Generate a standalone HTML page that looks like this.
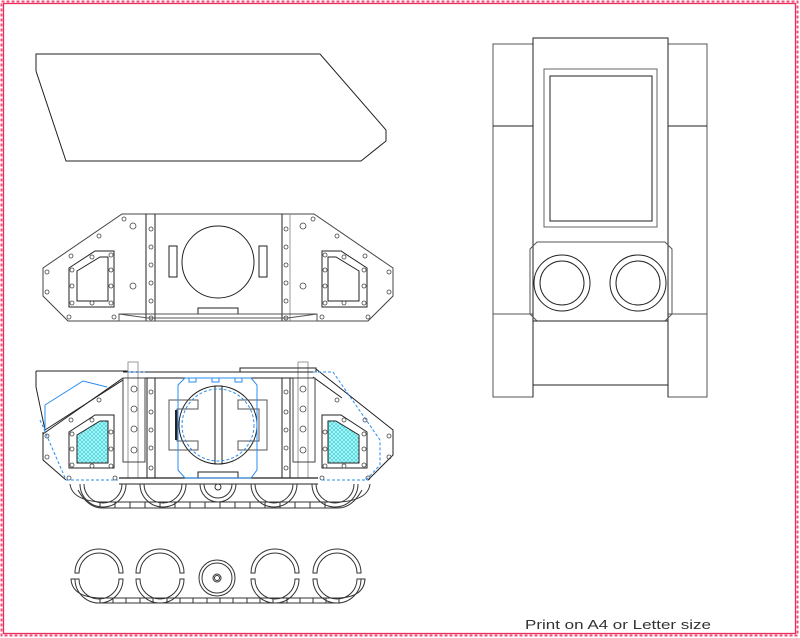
<!DOCTYPE html>
<html><head><meta charset="utf-8"><style>
html,body{margin:0;padding:0;background:#fff;}
svg{display:block;}
</style></head><body>
<svg width="800" height="638" viewBox="0 0 800 638" xmlns="http://www.w3.org/2000/svg">
<defs>
<pattern id="hatch" width="4" height="4" patternUnits="userSpaceOnUse">
<rect width="4" height="4" fill="#bff5f5"/>
<path d="M0,0 L4,4 M4,0 L0,4" stroke="#33d6e0" stroke-width="0.7"/>
</pattern>
</defs>
<rect x="1.5" y="1.5" width="796" height="634" fill="none" stroke="#f0507a" stroke-width="2" stroke-dasharray="3,2"/>
<rect x="3.5" y="3.5" width="792" height="630" fill="none" stroke="#e8305c" stroke-width="1.3"/>

<g fill="none" stroke="#222" stroke-width="1">
<path d="M36,54 H320 L386,130 V141 L361,161 H66 L36,71 Z"/>

<path d="M122,214 H314 L393,268 V296 L368,321 H68 L43,296 V268 Z" stroke="#444"/>
<line x1="146" y1="214" x2="146" y2="321"/>
<line x1="155" y1="214" x2="155" y2="321"/>
<line x1="282" y1="214" x2="282" y2="321"/>
<line x1="290" y1="214" x2="290" y2="321" stroke="#999"/>
<circle cx="218" cy="262" r="36"/>
<rect x="169" y="246" width="8" height="31"/>
<rect x="259" y="246" width="8" height="31"/>
<rect x="198" y="308" width="40" height="6"/>
<path d="M119,314 H317 V321 H119 Z M119,314 L148,318 M317,314 L288,318 M148,318 H288" stroke="#555"/>
<path d="M69,268 L95,251 H114 V307 H69 Z"/>
<path d="M77,271 L100,257 H108 V301 H77 Z"/>
<path d="M367,268 L341,251 H322 V307 H367 Z"/>
<path d="M359,271 L336,257 H328 V301 H359 Z"/>
<g stroke="#444" stroke-width="0.8">
<circle cx="151" cy="229" r="2"/><circle cx="151" cy="247" r="2"/><circle cx="151" cy="265" r="2"/><circle cx="151" cy="283" r="2"/><circle cx="151" cy="301" r="2"/><circle cx="151" cy="318" r="2"/>
<circle cx="286" cy="229" r="2"/><circle cx="286" cy="247" r="2"/><circle cx="286" cy="265" r="2"/><circle cx="286" cy="283" r="2"/><circle cx="286" cy="301" r="2"/><circle cx="286" cy="318" r="2"/>
<circle cx="133" cy="226" r="3"/><circle cx="133" cy="286" r="3"/><circle cx="303" cy="226" r="3"/><circle cx="303" cy="286" r="3"/>
<circle cx="124" cy="219" r="2"/><circle cx="313" cy="219" r="2"/>
<circle cx="99" cy="236" r="2"/><circle cx="71" cy="256" r="2"/><circle cx="47" cy="272" r="2"/><circle cx="47" cy="292" r="2"/><circle cx="69" cy="317" r="2"/><circle cx="114" cy="317" r="2"/>
<circle cx="337" cy="236" r="2"/><circle cx="365" cy="256" r="2"/><circle cx="389" cy="272" r="2"/><circle cx="389" cy="292" r="2"/><circle cx="368" cy="317" r="2"/><circle cx="322" cy="317" r="2"/>
<circle cx="72" cy="270" r="2"/><circle cx="72" cy="286" r="2"/><circle cx="72" cy="303" r="2"/><circle cx="92" cy="303" r="2"/><circle cx="111" cy="303" r="2"/><circle cx="111" cy="286" r="2"/><circle cx="111" cy="270" r="2"/><circle cx="111" cy="255" r="2"/><circle cx="92" cy="257" r="2"/>
<circle cx="364" cy="270" r="2"/><circle cx="364" cy="286" r="2"/><circle cx="364" cy="303" r="2"/><circle cx="344" cy="303" r="2"/><circle cx="325" cy="303" r="2"/><circle cx="325" cy="286" r="2"/><circle cx="325" cy="270" r="2"/><circle cx="325" cy="255" r="2"/><circle cx="344" cy="257" r="2"/>
</g>

<path d="M36,371 H128 M36,371 V387 L45,430 L123,380 M43,432 V460 L66,480" />
<path d="M43,434 L123,378"/>
<line x1="123" y1="372" x2="316" y2="372"/>
<line x1="123" y1="378" x2="313" y2="378"/>
<path d="M316,369 L393,430 V455 L368,480"/>
<path d="M313,377 L342,398"/>
<rect x="128" y="362" width="10" height="116" stroke="#999"/>
<rect x="298" y="362" width="10" height="116" stroke="#999"/>
<rect x="123" y="378" width="22" height="84" stroke="#444"/>
<rect x="293" y="378" width="22" height="84" stroke="#444"/>
<line x1="147" y1="378" x2="147" y2="478"/><line x1="155" y1="378" x2="155" y2="478"/>
<line x1="282" y1="378" x2="282" y2="478"/><line x1="290" y1="378" x2="290" y2="478"/>
<rect x="240" y="368" width="76" height="4"/>
<path d="M69,432 L95,415 H114 V468 H69 Z"/>
<path d="M367,432 L341,415 H322 V468 H367 Z"/>
<path d="M77,435 L100,421 H108 V463 H77 Z" fill="url(#hatch)"/>
<path d="M359,435 L336,421 H328 V463 H359 Z" fill="url(#hatch)"/>
<circle cx="218" cy="425" r="39"/>
<rect x="215" y="386" width="7" height="78"/>
<path d="M198,400 H169 V450 H198 V441 H177 V409 H198 Z" stroke="#555"/>
<path d="M238,400 H267 V450 H238 V441 H259 V409 H238 Z" stroke="#555"/>
<line x1="176" y1="410" x2="176" y2="440" stroke-width="2"/>
<line x1="119" y1="478" x2="318" y2="478" stroke-width="1.3"/>
<line x1="119" y1="484" x2="318" y2="484"/>
<rect x="198" y="472" width="40" height="6"/>
<g stroke="#444" stroke-width="0.8">
<circle cx="134" cy="389" r="3"/><circle cx="134" cy="409" r="3"/><circle cx="134" cy="429" r="3"/><circle cx="134" cy="450" r="3"/>
<circle cx="303" cy="389" r="3"/><circle cx="303" cy="409" r="3"/><circle cx="303" cy="429" r="3"/><circle cx="303" cy="450" r="3"/>
<circle cx="151" cy="392" r="2"/><circle cx="151" cy="412" r="2"/><circle cx="151" cy="430" r="2"/><circle cx="151" cy="448" r="2"/><circle cx="151" cy="468" r="2"/>
<circle cx="286" cy="392" r="2"/><circle cx="286" cy="412" r="2"/><circle cx="286" cy="430" r="2"/><circle cx="286" cy="448" r="2"/><circle cx="286" cy="468" r="2"/>
<circle cx="99" cy="400" r="2"/><circle cx="71" cy="420" r="2"/><circle cx="47" cy="436" r="2"/><circle cx="47" cy="457" r="2"/><circle cx="69" cy="478" r="2"/><circle cx="115" cy="478" r="2"/>
<circle cx="337" cy="400" r="2"/><circle cx="365" cy="420" r="2"/><circle cx="389" cy="436" r="2"/><circle cx="389" cy="457" r="2"/><circle cx="368" cy="478" r="2"/><circle cx="322" cy="478" r="2"/>
<circle cx="72" cy="434" r="2"/><circle cx="72" cy="449" r="2"/><circle cx="72" cy="465" r="2"/><circle cx="92" cy="466" r="2"/><circle cx="111" cy="466" r="2"/><circle cx="111" cy="449" r="2"/><circle cx="111" cy="432" r="2"/><circle cx="92" cy="420" r="2"/>
<circle cx="364" cy="434" r="2"/><circle cx="364" cy="449" r="2"/><circle cx="364" cy="465" r="2"/><circle cx="344" cy="466" r="2"/><circle cx="325" cy="466" r="2"/><circle cx="325" cy="449" r="2"/><circle cx="325" cy="432" r="2"/><circle cx="344" cy="420" r="2"/>
</g>
<g stroke="#333">
<path d="M80,484 A23,23 0 0 0 126,484 M84,484 A19,19 0 0 0 122,484"/>
<path d="M140,484 A23,23 0 0 0 186,484 M144,484 A19,19 0 0 0 182,484"/>
<path d="M200,484 A18,18 0 0 0 236,484 M204,484 A14,14 0 0 0 232,484"/>
<path d="M251,484 A23,23 0 0 0 297,484 M255,484 A19,19 0 0 0 293,484"/>
<path d="M312,484 A23,23 0 0 0 358,484 M316,484 A19,19 0 0 0 354,484"/>
<circle cx="218" cy="487" r="3"/>
<path d="M70,484 Q72,500 100,502 H340 Q368,500 370,484"/>
<path d="M78,490 Q88,508 102,508 H338 Q352,508 362,490"/>
<path d="M100,502 V508 M115,502 V508 M130,502 V508 M145,502 V508 M160,502 V508 M175,502 V508 M190,502 V508 M205,502 V508 M220,502 V508 M235,502 V508 M250,502 V508 M265,502 V508 M280,502 V508 M295,502 V508 M310,502 V508 M325,502 V508"/>
</g>
</g>

<g fill="none" stroke="#2a8cf0" stroke-width="1">
<path d="M185,378 H251 L257,385 V470 L251,478 H185 L178,470 V385 Z"/>
<rect x="189" y="378" width="7" height="4"/><rect x="212" y="378" width="7" height="4"/><rect x="235" y="378" width="7" height="4"/>
<circle cx="218" cy="425" r="36" stroke-dasharray="3,2"/>
<path d="M45,405 L83,381 L107,387" />
<path d="M45,405 L45,432" />
<path d="M66,480 H118" stroke-dasharray="3,2"/>
<path d="M322,480 H368" stroke-dasharray="3,2"/>
<path d="M40,420 L66,480" stroke-dasharray="3,2"/>
<path d="M313,372 L333,372 L380,440 L380,465 L366,480" stroke-dasharray="3,2"/>
<path d="M128,372 H145" stroke-dasharray="3,2"/>
</g>

<g fill="none" stroke="#333" stroke-width="1">
<path d="M75,573 A24,24 0 0 1 123,573 H119 A20,20 0 0 0 79,573 Z"/>
<path d="M136,573 A24,24 0 0 1 184,573 H180 A20,20 0 0 0 140,573 Z"/>
<path d="M251,573 A24,24 0 0 1 299,573 H295 A20,20 0 0 0 255,573 Z"/>
<path d="M313,573 A24,24 0 0 1 361,573 H357 A20,20 0 0 0 317,573 Z"/>
<path d="M75,579 A24,24 0 0 0 123,579 H119 A20,20 0 0 1 79,579 Z"/>
<path d="M136,579 A24,24 0 0 0 184,579 H180 A20,20 0 0 1 140,579 Z"/>
<path d="M251,579 A24,24 0 0 0 299,579 H295 A20,20 0 0 1 255,579 Z"/>
<path d="M313,579 A24,24 0 0 0 361,579 H357 A20,20 0 0 1 317,579 Z"/>
<path d="M75,579 H71 Q72,597 100,598 M361,579 H365 Q364,597 339,598"/>
<path d="M100,598 V603 H339 V598 H100"/>
<path d="M113,598 V603 M126,598 V603 M140,598 V603 M153,598 V603 M167,598 V603 M180,598 V603 M193,598 V603 M207,598 V603 M220,598 V603 M233,598 V603 M247,598 V603 M260,598 V603 M273,598 V603 M287,598 V603 M300,598 V603 M313,598 V603 M326,598 V603"/>
<circle cx="217" cy="578" r="18"/>
<circle cx="217" cy="578" r="15"/>
<circle cx="217" cy="578" r="4"/>
<circle cx="217" cy="578" r="2.5"/>
</g>

<g fill="none" stroke="#222" stroke-width="1">
<rect x="493" y="44" width="40" height="353" stroke="#555"/>
<rect x="668" y="44" width="39" height="353" stroke="#555"/>
<line x1="493" y1="126" x2="533" y2="126"/><line x1="668" y1="126" x2="707" y2="126"/>
<line x1="493" y1="314" x2="533" y2="314" stroke="#555"/><line x1="668" y1="314" x2="707" y2="314" stroke="#555"/>
<path d="M533,397 V38 H668 V397"/>
<line x1="533" y1="385" x2="668" y2="385"/>
<rect x="544" y="69" width="113" height="158" stroke="#666"/>
<rect x="550" y="76" width="102" height="145"/>
<path d="M537,242 H665 L672,249 V314 L665,321 H537 L530,314 V249 Z" stroke="#555"/>
<line x1="533" y1="321" x2="668" y2="321"/>
<circle cx="562" cy="283" r="28"/><circle cx="562" cy="283" r="22"/>
<circle cx="638" cy="283" r="28"/><circle cx="638" cy="283" r="22"/>
</g>

<text x="525" y="629" font-family="Liberation Sans, sans-serif" font-size="13" fill="#333" textLength="186" lengthAdjust="spacingAndGlyphs">Print on A4 or Letter size</text>
</svg>
</body></html>
